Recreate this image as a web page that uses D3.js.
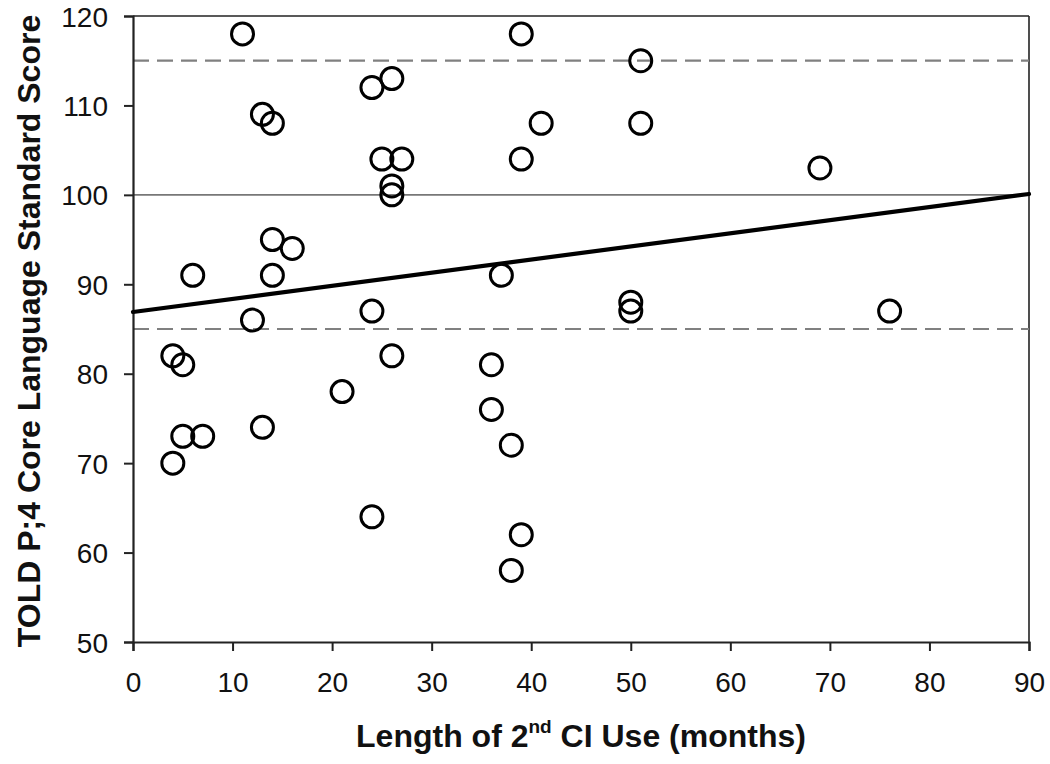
<!DOCTYPE html>
<html>
<head>
<meta charset="utf-8">
<script src="https://cdn.jsdelivr.net/npm/d3@7"></script>
<style>
  body { margin: 0; background: #fff; }
  text { font-family: 'Liberation Sans', Arial, sans-serif; }
</style>
</head>
<body>
<div id="chart-container"></div>
<script>
// months of 2nd CI use
const months = [11, 13, 14, 14, 16, 14, 6, 12, 4, 5, 5, 7, 4, 13, 21, 24, 24, 26, 24, 26,
  25, 27, 26, 26, 39, 51, 41, 51, 39, 37, 36, 36, 38, 39, 38, 50, 50, 69, 76];
// TOLD P:4 core language standard scores
const scores = [118, 109, 108, 95, 94, 91, 91, 86, 82, 81, 73, 73, 70, 74, 78, 64, 87, 82, 112, 113,
  104, 104, 101, 100, 118, 115, 108, 108, 104, 91, 81, 76, 72, 62, 58, 88, 87, 103, 87];
const xTicks = [0, 10, 20, 30, 40, 50, 60, 70, 80, 90];
const yTicks = [50, 60, 70, 80, 90, 100, 110, 120];
const refSolid = [100];
const refDashed = [85, 115];
// regression line end points [month, score]
const fitLine = [[0, 86.9], [90, 100.1]];

window.onload = () => {
  const width = 1050;
  const height = 764;
  const margin = { left: 133, top: 16, right: 21, bottom: 122 };
  const w = width - margin.left - margin.right;
  const h = height - margin.top - margin.bottom;

  const svg = d3.select('div#chart-container')
    .append('svg')
    .attr('width', width)
    .attr('height', height);

  const g = svg.append('g')
    .attr('transform', `translate(${margin.left},${margin.top})`);

  const x = d3.scaleLinear().domain([0, 90]).range([0, w]);
  const y = d3.scaleLinear().domain([50, 120]).range([h, 0]);

  // frame top + right
  g.append('line').attr('x1', 0).attr('x2', w).attr('y1', 0).attr('y2', 0)
    .attr('stroke', '#222').attr('stroke-width', 1.6);
  g.append('line').attr('x1', w).attr('x2', w).attr('y1', 0).attr('y2', h)
    .attr('stroke', '#222').attr('stroke-width', 1.6);

  // reference lines
  g.selectAll('line.ref-solid')
    .data(refSolid)
    .enter()
    .append('line')
    .attr('class', 'ref-solid')
    .attr('x1', 0).attr('x2', w)
    .attr('y1', d => y(d)).attr('y2', d => y(d))
    .attr('stroke', '#777').attr('stroke-width', 1.6);

  g.selectAll('line.ref-dashed')
    .data(refDashed)
    .enter()
    .append('line')
    .attr('class', 'ref-dashed')
    .attr('x1', 0).attr('x2', w)
    .attr('y1', d => y(d)).attr('y2', d => y(d))
    .attr('stroke', '#808080').attr('stroke-width', 2.2)
    .attr('stroke-dasharray', '16 8');

  // axes
  const xAxis = d3.axisBottom(x).tickValues(xTicks).tickSize(9).tickPadding(21);
  const yAxis = d3.axisLeft(y).tickValues(yTicks).tickSize(9).tickPadding(16);

  const gx = g.append('g')
    .attr('class', 'xaxis')
    .attr('transform', `translate(0, ${h})`)
    .call(xAxis);
  const gy = g.append('g')
    .attr('class', 'yaxis')
    .call(yAxis);

  [gx, gy].forEach(a => {
    a.select('.domain').attr('stroke', '#222').attr('stroke-width', 2.2);
    a.selectAll('.tick line').attr('stroke', '#222').attr('stroke-width', 2);
    a.selectAll('.tick text')
      .attr('fill', '#111')
      .style('font-family', "'Liberation Sans', Arial, sans-serif");
  });
  gx.selectAll('.tick text').style('font-size', '28px');
  gy.selectAll('.tick text').style('font-size', '28px').attr('dy', '0.36em');

  // regression line
  g.append('line')
    .attr('x1', x(fitLine[0][0])).attr('y1', y(fitLine[0][1]))
    .attr('x2', x(fitLine[1][0])).attr('y2', y(fitLine[1][1]))
    .attr('stroke', '#000').attr('stroke-width', 4.2)
    .attr('stroke-linecap', 'round');

  // points
  g.selectAll('circle.pt')
    .data(months.map((m, i) => [m, scores[i]]))
    .enter()
    .append('circle')
    .attr('class', 'pt')
    .attr('cx', d => x(d[0]))
    .attr('cy', d => y(d[1]))
    .attr('r', 11)
    .attr('fill', 'none')
    .attr('stroke', '#000')
    .attr('stroke-width', 3);

  // axis titles
  const xt = svg.append('text')
    .attr('x', 581)
    .attr('y', 747)
    .attr('text-anchor', 'middle')
    .style('font-size', '32px')
    .style('font-weight', 'bold')
    .attr('fill', '#111');
  xt.append('tspan').text('Length of 2');
  xt.append('tspan').text('nd').style('font-size', '19px').attr('dy', -14);
  xt.append('tspan').text(' CI Use (months)').attr('dy', 14);

  svg.append('text')
    .attr('transform', 'translate(40, 331) rotate(-90)')
    .attr('text-anchor', 'middle')
    .style('font-size', '32px')
    .style('font-weight', 'bold')
    .attr('fill', '#111')
    .text('TOLD P;4 Core Language Standard Score');
};
</script>
</body>
</html>
